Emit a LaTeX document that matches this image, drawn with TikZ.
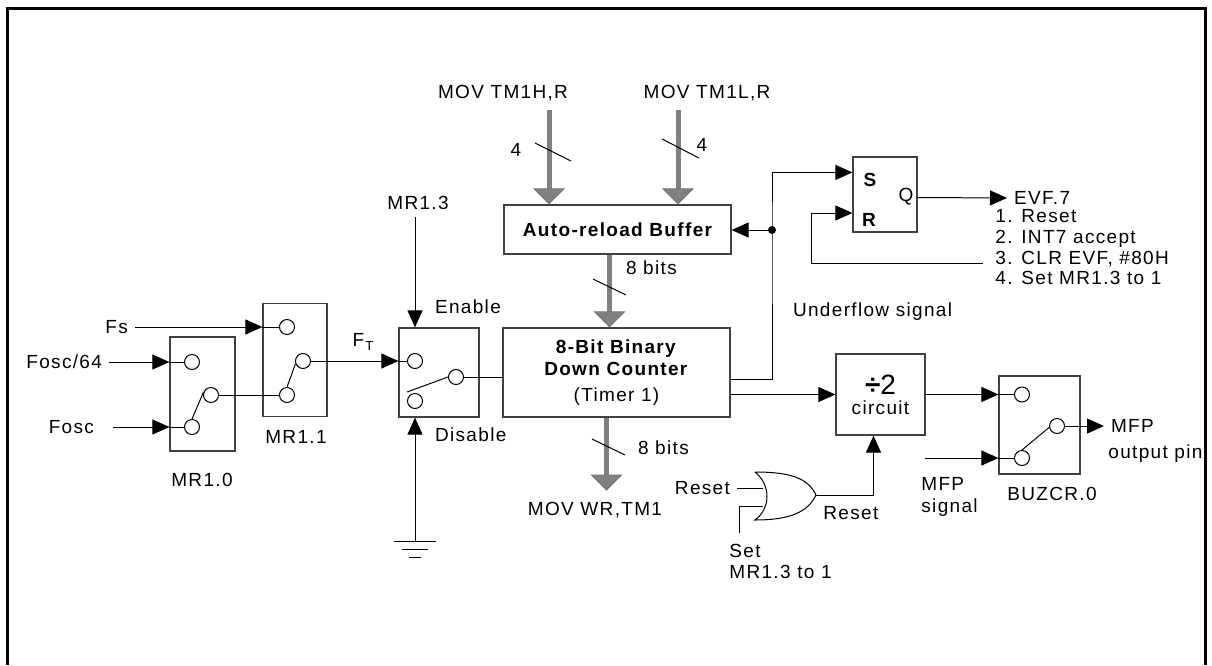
\documentclass[tikz,border=0pt]{standalone}
\usepackage{fontspec}
\setmainfont{Liberation Sans}[LetterSpace=7]
\usetikzlibrary{arrows.meta,calc}

\begin{document}
\begin{tikzpicture}[
    x=0.5pt, y=-0.5pt,
    font=\fontsize{9.5}{11}\selectfont,
    block/.style={rectangle, draw=black!75, line width=0.6pt, inner sep=0pt},
    pin/.style={circle, draw, line width=0.5pt, inner sep=0pt, minimum size=7.5pt},
    wire/.style={line width=0.5pt},
    sig/.style={line width=0.5pt, -{Triangle[length=8.5pt,width=7.5pt]}},
    bus/.style={line width=2.5pt, draw=black!50, -{Triangle[length=8pt,width=16pt,line width=0.4pt,color=black!55,fill=black!50]}},
    bold/.style={font=\fontsize{9.5}{11}\selectfont\bfseries}
    ]

    \useasboundingbox (0,0) rectangle (1212,665);
    \draw[line width=1.5pt] (7,665) -- (7,8) -- (1205,8) -- (1205,665);

    % clock select switches
    \node[block, minimum width=32.5pt, minimum height=57pt] (mrzero) at (202.5,394) {};
    \node[pin] (c00) at (192,362) {};
    \node[pin] (c01) at (192,427) {};
    \node[pin] (c02) at (211,395) {};
    \draw[wire] (c01.north) -- (c02.160);
    \node at (202,480) {MR1.0};

    \node[block, minimum width=32pt, minimum height=56.5pt] (mrone) at (295,360) {};
    \node[pin] (c10) at (287,327) {};
    \node[pin] (c11) at (303,361) {};
    \node[pin] (c12) at (287,395) {};
    \draw[wire] (c12.north) -- (c11.200);
    \node at (296,437) {MR1.1};

    \node[anchor=east] (foscsix) at (109,362) {Fosc/64};
    \node[anchor=east] (fosc) at (101,427) {Fosc};
    \coordinate (foscin) at (113,427);
    \node[anchor=east] (fs) at (135,327) {Fs};
    \draw[sig] (foscsix.east) -- (c00 -| mrzero.west);
    \draw[wire] (c00 -| mrzero.west) -- (c00.west);
    \draw[sig] (foscin) -- (c01 -| mrzero.west);
    \draw[wire] (c01 -| mrzero.west) -- (c01.west);
    \draw[sig] (fs.east) -- (c10 -| mrone.west);
    \draw[wire] (c10 -| mrone.west) -- (c10.west);
    \draw[wire] (c02.east) -- (c12.west);

    % enable switch
    \node[block, minimum width=40pt, minimum height=44.5pt] (mrthree) at (439,372.5) {};
    \node[pin] (c30) at (415,361) {};
    \node[pin] (c31) at (456,377) {};
    \node[pin] (c32) at (415,401) {};
    \draw[wire] ($(c32.north)+(-8,-1)$) -- (c31.west);
    \node at (363,342) {F\kern0.5pt\raisebox{-0.45ex}{\fontsize{6.5}{7}\selectfont T}};
    \draw[sig] (c11.east) -- (c30 -| mrthree.west);
    \draw[wire] (c30 -| mrthree.west) -- (c30.west);

    \node (mrthreelbl) at (418,203) {MR1.3};
    \draw[sig] (mrthreelbl.south -| c30) -- (c30 |- mrthree.north);
    \node[anchor=west] at (428,307) {Enable};
    \node[anchor=west] at (428,435) {Disable};
    \coordinate (gnd) at (415,541);
    \draw[sig] (gnd) -- (gnd |- mrthree.south);
    \draw[wire] (394,541) -- (436,541);
    \draw[wire] (402,549) -- (428,549);
    \draw[wire] (409,557) -- (421,557);

    % counter and reload buffer
    \node[block, minimum width=113.5pt, minimum height=44.5pt, align=center] (counter) at (616.5,372.5)
      {\textbf{8-Bit Binary}\\\textbf{Down Counter}\\[2pt](Timer 1)};
    \node[block, bold, minimum width=113.5pt, minimum height=24.5pt] (buffer) at (617.5,229.5) {Auto-reload Buffer};
    \draw[wire] (c31.east) -- (c31 -| counter.west);

    \node (tmh) at (503,93) {MOV TM1H,R};
    \node (tml) at (707,93) {MOV TM1L,R};
    \coordinate (tmhin) at (549,110);
    \coordinate (tmlin) at (678,110);
    \draw[bus] (tmhin) -- (tmhin |- buffer.north);
    \draw[bus] (tmlin) -- (tmlin |- buffer.north);
    \draw[wire] (535,143) -- (571,161);
    \draw[wire] (662,139) -- (699,158);
    \node at (516,150) {4};
    \node at (702,145) {4};

    \coordinate (bufout) at ($(buffer.south)+(-8,0)$);
    \draw[bus] (bufout) -- (bufout |- counter.north);
    \draw[wire] (593,279) -- (626,295);
    \node[anchor=west] at (619,268) {8 bits};

    \coordinate (cntout) at ($(counter.south)+(-10,0)$);
    \draw[bus] (cntout) -- ++(0,73);
    \draw[wire] (592,439) -- (625,455);
    \node[anchor=west] at (631,448) {8 bits};
    \node at (595,510) {MOV WR,TM1};

    % underflow flag
    \node[block, minimum width=32pt, minimum height=37.5pt] (srff) at (885,194.5) {};
    \node[bold] at (870,180) {S};
    \node[bold] at (869,220) {R};
    \node at (906,197) {Q};
    \coordinate (ufdot) at (772,230);
    \draw[sig] ($(counter.east)+(0,7)$) -| (ufdot) |- ($(srff.north west)+(0,16)$);
    \fill (ufdot) circle (2pt);
    \draw[sig] (ufdot) -- (ufdot -| buffer.east);
    \node[anchor=west] at (786,312) {Underflow signal};

    \node[anchor=west] (evf) at (1007,198) {EVF.7};
    \draw[sig] ($(srff.east)+(0,3)$) -- (evf.west);
    \node[anchor=north west, inner sep=0pt, align=left, font=\fontsize{9.5}{10.4}\selectfont] (evflist) at (995,209)
      {1. Reset\\2. INT7 accept\\3. CLR EVF, \#80H\\4. Set MR1.3 to 1};
    \coordinate (rst) at (983,263);
    \coordinate (rin) at ($(srff.west)+(0,18.5)$);
    \draw[sig] (rst) -| ($(rin)+(-41,0)$) -- (rin);

    % divide by two and buzzer output
    \node[block, minimum width=44.5pt, minimum height=40.5pt, align=center] (divtwo) at (880.5,394.5)
      {{\fontsize{14}{14}\selectfont\bfseries ÷\mdseries 2}\\[-1pt]circuit};
    \draw[sig] (counter.east |- divtwo.west) -- (divtwo.west);

    \node[block, minimum width=40.5pt, minimum height=49pt] (buzcr) at (1039.5,425) {};
    \node[pin] (b0) at (1022,394.5) {};
    \node[pin] (b1) at (1057,426) {};
    \node[pin] (b2) at (1022,458) {};
    \draw[wire] (b2.north) -- (b1.190);
    \node at (1052,494) {BUZCR.0};
    \draw[sig] (divtwo.east) -- (divtwo.east -| buzcr.west);
    \draw[wire] (divtwo.east -| buzcr.west) -- (b0.west);
    \coordinate (mfpin) at (925,458);
    \draw[sig] (mfpin) -- (mfpin -| buzcr.west);
    \draw[wire] (mfpin -| buzcr.west) -- (b2.west);
    \node[anchor=north west, inner sep=0pt, align=left] at (921,477) {MFP\\signal};
    \node[anchor=west] (mfpout) at (1104,426) {MFP};
    \draw[sig] (b1.east) -- (mfpout.west);
    \node[anchor=west, inner sep=0pt] at (1108,454) {output pin};

    % reset gate
    \coordinate (orin1) at (763,488);
    \coordinate (orin2) at (763,506);
    \coordinate (orout) at (816,495);
    \draw[wire] (755,472) .. controls (771,485) and (771,508) .. (755,520)
      .. controls (790,520) and (808,512) .. (orout)
      .. controls (808,478) and (790,472) .. (755,472);
    \node[anchor=east] (resetin) at (737,488) {Reset};
    \draw[wire] (resetin.east) -- (orin1);
    \coordinate (setin) at (739,533);
    \draw[wire] (setin) -- (setin |- orin2) -- (orin2);
    \node[anchor=north west, inner sep=0pt, align=left, font=\fontsize{9.5}{10.5}\selectfont] at (729,544) {Set\\MR1.3 to 1};
    \draw[sig] (orout) -| ($(divtwo.south)+(-7,0)$);
    \node[anchor=west, inner sep=0pt] at (823,513) {Reset};

\end{tikzpicture}
\end{document}
